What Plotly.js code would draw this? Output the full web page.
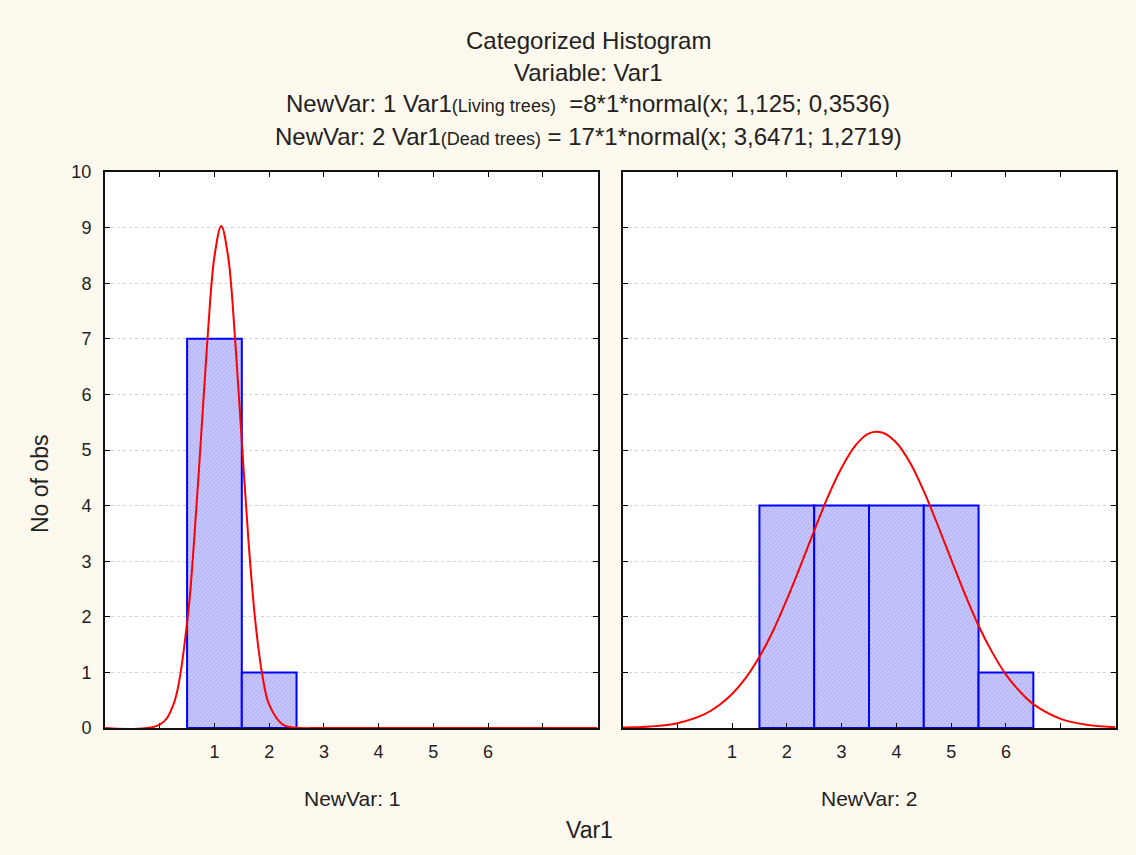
<!DOCTYPE html>
<html>
<head>
<meta charset="utf-8">
<script src="https://cdn.plot.ly/plotly-3.0.1.min.js"></script>
<style>html,body{margin:0;padding:0;background:#fdf9ee;}</style>
</head>
<body>
<div id="chart" style="width:1136px;height:855px;"></div>
<script>
// Histogram counts (bin centers)
const bins1 = [1, 2];
const counts1 = [7, 1];
const bins2 = [2, 3, 4, 5, 6];
const counts2 = [4, 4, 4, 4, 1];

// Fitted normal curves
const curveX1 = [-1, 0, 0.25, 0.5, 0.625, 0.75, 0.875, 1.0, 1.125, 1.25, 1.375, 1.5, 1.625, 1.75, 1.875, 2.0, 2.25, 2.5, 3, 8];
const curveY1 = [0, 0.06, 0.42, 1.89, 3.32, 5.15, 7.03, 8.48, 9.03, 8.48, 7.03, 5.15, 3.32, 1.89, 0.95, 0.42, 0.06, 0.005, 0, 0];
const curveX2 = [-1, -0.5, 0, 0.5, 0.75, 1, 1.25, 1.5, 1.75, 2, 2.25, 2.5, 2.75, 3, 3.25, 3.5, 3.75, 4, 4.25, 4.5, 4.75, 5, 5.25, 5.5, 5.75, 6, 6.25, 6.5, 7, 7.5, 8];
const curveY2 = [0.007, 0.026, 0.087, 0.25, 0.40, 0.61, 0.90, 1.28, 1.75, 2.31, 2.92, 3.55, 4.16, 4.68, 5.08, 5.30, 5.31, 5.13, 4.77, 4.26, 3.66, 3.03, 2.41, 1.84, 1.36, 0.96, 0.66, 0.43, 0.165, 0.054, 0.015];

const xTickVals = [0, 1, 2, 3, 4, 5, 6, 7];
const xTickText = ['', '1', '2', '3', '4', '5', '6', ''];
const yTickVals = [0, 1, 2, 3, 4, 5, 6, 7, 8, 9, 10];

const titleLines = [
  'Categorized Histogram',
  'Variable: Var1',
  'NewVar: 1 Var1<span style="font-size:18px">(Living trees)</span>  =8*1*normal(x; 1,125; 0,3536)',
  'NewVar: 2 Var1<span style="font-size:18px">(Dead trees)</span> = 17*1*normal(x; 3,6471; 1,2719)'
];
const panelLabels = ['NewVar: 1', 'NewVar: 2'];

const barStyle = {
  color: '#c6c6ff',
  line: {color: '#0000ff', width: 2},
  pattern: {shape: '/', bgcolor: '#c8c8ff', fgcolor: '#acacf2', size: 3, solidity: 0.3}
};

const traces = [
  {type: 'bar', x: bins1, y: counts1, width: 1, marker: barStyle, xaxis: 'x', yaxis: 'y'},
  {type: 'bar', x: bins2, y: counts2, width: 1, marker: barStyle, xaxis: 'x2', yaxis: 'y2'},
  {type: 'scatter', mode: 'lines', x: curveX1, y: curveY1, line: {color: '#ff0000', width: 2, shape: 'spline', smoothing: 1}, xaxis: 'x', yaxis: 'y'},
  {type: 'scatter', mode: 'lines', x: curveX2, y: curveY2, line: {color: '#ff0000', width: 2, shape: 'spline', smoothing: 1}, xaxis: 'x2', yaxis: 'y2'}
];

const W = 1136, H = 855;
const yDom = [1 - 728 / H, 1 - 172 / H];

function xAxis(dom, anchor) {
  return {
    domain: dom, anchor: anchor, range: [-1, 8], tickmode: 'array', tickvals: xTickVals, ticktext: xTickText,
    ticks: 'inside', ticklen: 5, tickwidth: 1, tickcolor: '#000', mirror: 'ticks',
    showline: true, linecolor: '#111', linewidth: 2, showgrid: false, zeroline: false,
    tickfont: {size: 18, color: '#222'}, ticklabelstandoff: 6, fixedrange: true
  };
}
function yAxis(anchor, showLabels) {
  return {
    domain: yDom, range: [0, 10], tickmode: 'array', tickvals: yTickVals, anchor: anchor,
    ticks: 'inside', ticklen: 5, tickwidth: 1, tickcolor: '#000', mirror: 'ticks',
    showline: true, linecolor: '#111', linewidth: 2, showgrid: true, gridcolor: '#d2d2d2',
    griddash: 'dot', gridwidth: 1, zeroline: false, showticklabels: showLabels,
    tickfont: {size: 18, color: '#222'}, ticklabelstandoff: 8, fixedrange: true
  };
}

const annotations = [];
const titleY = [41, 72, 104, 137];
titleLines.forEach((t, i) => {
  annotations.push({text: t, x: 588 / W, xref: 'paper', y: 1 - titleY[i] / H, yref: 'paper',
    showarrow: false, xanchor: 'center', yanchor: 'middle', font: {size: 24, color: '#222'}});
});
annotations.push({text: panelLabels[0], x: 352 / W, xref: 'paper', y: 1 - 798 / H, yref: 'paper',
  showarrow: false, xanchor: 'center', yanchor: 'middle', font: {size: 21, color: '#222'}});
annotations.push({text: panelLabels[1], x: 869 / W, xref: 'paper', y: 1 - 798 / H, yref: 'paper',
  showarrow: false, xanchor: 'center', yanchor: 'middle', font: {size: 21, color: '#222'}});
annotations.push({text: 'Var1', x: 589 / W, xref: 'paper', y: 1 - 830 / H, yref: 'paper',
  showarrow: false, xanchor: 'center', yanchor: 'middle', font: {size: 23, color: '#222'}});
annotations.push({text: 'No of obs', x: 40 / W, xref: 'paper', y: 1 - 484 / H, yref: 'paper', textangle: -90,
  showarrow: false, xanchor: 'center', yanchor: 'middle', font: {size: 23, color: '#222'}});

const layout = {
  width: W, height: H,
  margin: {l: 0, r: 0, t: 0, b: 0, pad: 0},
  paper_bgcolor: '#fdf9ee', plot_bgcolor: '#ffffff',
  font: {family: 'Liberation Sans, Arial, sans-serif', color: '#222'},
  showlegend: false, bargap: 0,
  xaxis: xAxis([105 / W, 597.5 / W], 'y'),
  yaxis: yAxis('x', true),
  xaxis2: xAxis([622.5 / W, 1115.5 / W], 'y2'),
  yaxis2: yAxis('x2', false),
  annotations: annotations
};

Plotly.newPlot('chart', traces, layout, {displayModeBar: false, staticPlot: true});
</script>
</body>
</html>
